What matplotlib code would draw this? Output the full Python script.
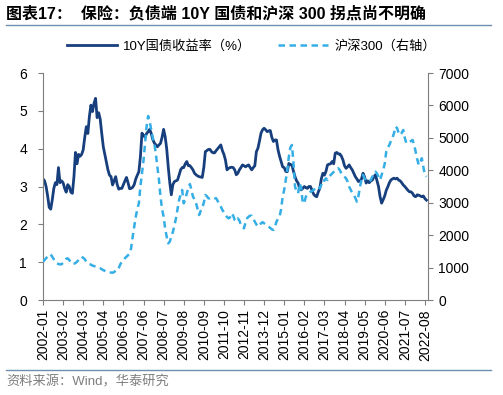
import numpy as np
import matplotlib
matplotlib.use('Agg')
import matplotlib.pyplot as plt
import pandas as pd

plt.rcParams['font.family'] = ['Liberation Sans', 'Noto Sans CJK SC']

# monthly data 2002-01 .. 2022-09
yield_10y = [
    3.2, 3.15, 3.0, 2.75, 2.45, 2.4, 2.65, 2.95, 3.1, 3.05, 3.5, 3.1,
    3.15, 3.1, 2.95, 2.85, 3.05, 3.0, 2.85, 2.82, 3.25, 3.9, 3.6, 3.85,
    3.8, 3.85, 3.97, 4.3, 4.58, 4.4, 4.85, 5.15, 4.98, 5.2, 5.33, 4.82,
    4.95, 4.78, 4.4, 4.05, 3.85, 3.65, 3.44, 3.3, 3.26, 3.04, 3.15, 3.26,
    3.05, 2.93, 2.95, 2.95, 3.05, 3.15, 3.24, 3.1, 2.94, 2.95, 2.98, 3.05,
    3.2, 3.3, 3.39, 3.79, 4.41, 4.35, 4.3, 4.4, 4.45, 4.51, 4.4, 4.24,
    4.15, 4.1, 4.05, 4.1, 4.14, 4.3, 4.51, 4.32, 4.0, 3.52, 3.1, 2.78,
    3.05, 3.13, 3.15, 3.17, 3.3, 3.44, 3.5, 3.5, 3.6, 3.66, 3.55, 3.55,
    3.5, 3.44, 3.35, 3.31, 3.28, 3.26, 3.25, 3.24, 3.5, 3.92, 3.95, 3.98,
    3.98, 3.92, 3.89, 3.89, 3.95, 4.0, 4.05, 4.1, 3.95, 3.85, 3.7, 3.44,
    3.48, 3.5, 3.51, 3.5, 3.44, 3.31, 3.35, 3.44, 3.5, 3.57, 3.55, 3.52,
    3.55, 3.57, 3.5, 3.44, 3.5, 3.55, 3.92, 4.01, 4.2, 4.41, 4.5, 4.54,
    4.5, 4.45, 4.47, 4.48, 4.3, 4.19, 4.23, 4.23, 3.97, 3.8, 3.66, 3.52,
    3.5, 3.4, 3.39, 3.61, 3.58, 3.57, 3.4, 3.26, 3.15, 3.09, 2.95, 2.91,
    2.95, 3.0, 2.97, 2.95, 3.0, 3.0, 2.9, 2.8, 2.75, 2.73, 2.85, 2.95,
    3.2, 3.35, 3.3, 3.4, 3.57, 3.59, 3.6, 3.66, 3.6, 3.88, 3.9, 3.86,
    3.86, 3.8, 3.7, 3.55, 3.48, 3.52, 3.57, 3.5, 3.44, 3.35, 3.26, 3.2,
    3.13, 3.15, 3.2, 3.35, 3.25, 3.09, 3.15, 3.1, 3.15, 3.17, 3.25, 3.31,
    3.15, 3.0, 2.73, 2.56, 2.65, 2.75, 2.9, 2.99, 3.1, 3.17, 3.2, 3.22,
    3.2, 3.22, 3.17, 3.15, 3.1, 3.04, 3.0, 2.95, 2.9, 2.86, 2.86, 2.82,
    2.75, 2.73, 2.78, 2.77, 2.75, 2.73, 2.75, 2.68, 2.64,
]

csi300 = [
    1181, 1230, 1290, 1340, 1390, 1408, 1330, 1250, 1180, 1131, 1110, 1100,
    1100, 1150, 1200, 1270, 1285, 1230, 1160, 1110, 1120, 1140, 1181, 1230,
    1290, 1335, 1300, 1260, 1180, 1131, 1110, 1090, 1060, 1048, 1030, 1000,
    990, 977, 950, 920, 900, 873, 860, 850, 845, 842, 860, 904,
    904, 990, 1100, 1181, 1230, 1290, 1335, 1380, 1440, 1600, 1953, 2270,
    2570, 2800, 2981, 3500, 3908, 4300, 4832, 5346, 5674, 5500, 5243, 5000,
    4832, 4500, 4113, 3700, 3186, 2800, 2570, 2200, 1950, 1747, 1800, 1953,
    2100, 2300, 2518, 2800, 3084, 3250, 3392, 2981, 3100, 3289, 3450, 3576,
    3400, 3186, 3100, 2981, 2800, 2621, 2750, 2827, 3000, 3238, 3200, 3135,
    3135, 3150, 3160, 3140, 3135, 3050, 2950, 2878, 2780, 2700, 2621, 2560,
    2518, 2550, 2673, 2600, 2467, 2430, 2518, 2450, 2313, 2250, 2210, 2400,
    2520, 2570, 2600, 2596, 2500, 2416, 2330, 2262, 2300, 2364, 2400, 2364,
    2330, 2300, 2262, 2220, 2180, 2159, 2250, 2416, 2500, 2570, 2800, 3186,
    3400, 3700, 4000, 4421, 4700, 4780, 4216, 3495, 3350, 3289, 3597, 3450,
    2981, 3000, 3186, 3250, 3300, 3340, 3360, 3392, 3430, 3495, 3480, 3443,
    3550, 3700, 3680, 3751, 3700, 3803, 3850, 3900, 3950, 4000, 4030, 4062,
    4000, 3900, 3850, 3800, 3751, 3650, 3495, 3400, 3300, 3238, 3150, 3031,
    3200, 3495, 3700, 3855, 3750, 3700, 3680, 3649, 3700, 3803, 3850, 3957,
    3900, 3800, 3700, 3850, 4009, 4200, 4576, 4700, 4780, 4900, 5000, 5140,
    5346, 5300, 5150, 5088, 5150, 5243, 5000, 4832, 4850, 4883, 4900, 4935,
    4800, 4576, 4350, 4163, 4250, 4370, 4100, 3855, 3803,
]

months = pd.date_range('2002-01', periods=len(yield_10y), freq='MS').strftime('%Y-%m')
tick_step = 13

navy = '#173f7d'
sky = '#35aee6'
grey = '#7f7f7f'

fig = plt.figure(figsize=(5.03, 3.95), dpi=100)
ax = fig.add_axes([43/503, 1 - 300/395, 385/503, 227/395])
ax2 = ax.twinx()

x = np.arange(len(yield_10y))
l1, = ax.plot(x, yield_10y, color=navy, lw=2.0, label='10Y国债收益率（%）')
l2, = ax2.plot(x, csi300, color=sky, lw=1.8, ls=(0, (2.6, 1.8)), label='沪深300（右轴）')

ax.set_xlim(0, 249)
ax.set_ylim(0, 6)
ax2.set_ylim(0, 7000)
ax.set_yticks(range(0, 7))
ax2.set_yticks(range(0, 7001, 1000))
ticks = list(range(0, len(yield_10y), tick_step))
ax.set_xticks(ticks)
ax.set_xticklabels([months[i] for i in ticks], rotation=90)

for a in (ax, ax2):
    a.spines['top'].set_visible(False)
    for s in ('left', 'right', 'bottom'):
        a.spines[s].set_color(grey)
    a.tick_params(colors=grey, labelcolor='black', labelsize=10, length=3.5)
ax.spines['right'].set_visible(False)
ax2.spines['left'].set_visible(False)
ax2.spines['bottom'].set_visible(False)
ax.tick_params(axis='y', pad=8)
ax2.tick_params(axis='y', pad=4)
ax.tick_params(axis='x', labelsize=10, pad=3)

fig.legend(handles=[l1, l2], loc='center', bbox_to_anchor=(0.5, 1 - 46/395),
           ncol=2, frameon=False, fontsize=9.5, handlelength=3.8, columnspacing=2.0,
           handletextpad=0.5)

fig.text(6/503, 1 - 14/395, '图表17：  保险：负债端 10Y 国债和沪深 300 拐点尚不明确',
         fontsize=11.5, fontweight='bold', va='center', ha='left')
fig.add_artist(plt.Line2D([6/503, 491/503], [1 - 25/395, 1 - 25/395], color='#6f8faf', lw=1))
fig.add_artist(plt.Line2D([6/503, 491/503], [1 - 370/395, 1 - 370/395], color='#6f8faf', lw=1))
fig.text(6/503, 1 - 382/395, '资料来源：Wind，华泰研究', fontsize=9.5, color='#7f7f7f',
         va='center', ha='left')

fig.savefig('out.png', dpi=100)
